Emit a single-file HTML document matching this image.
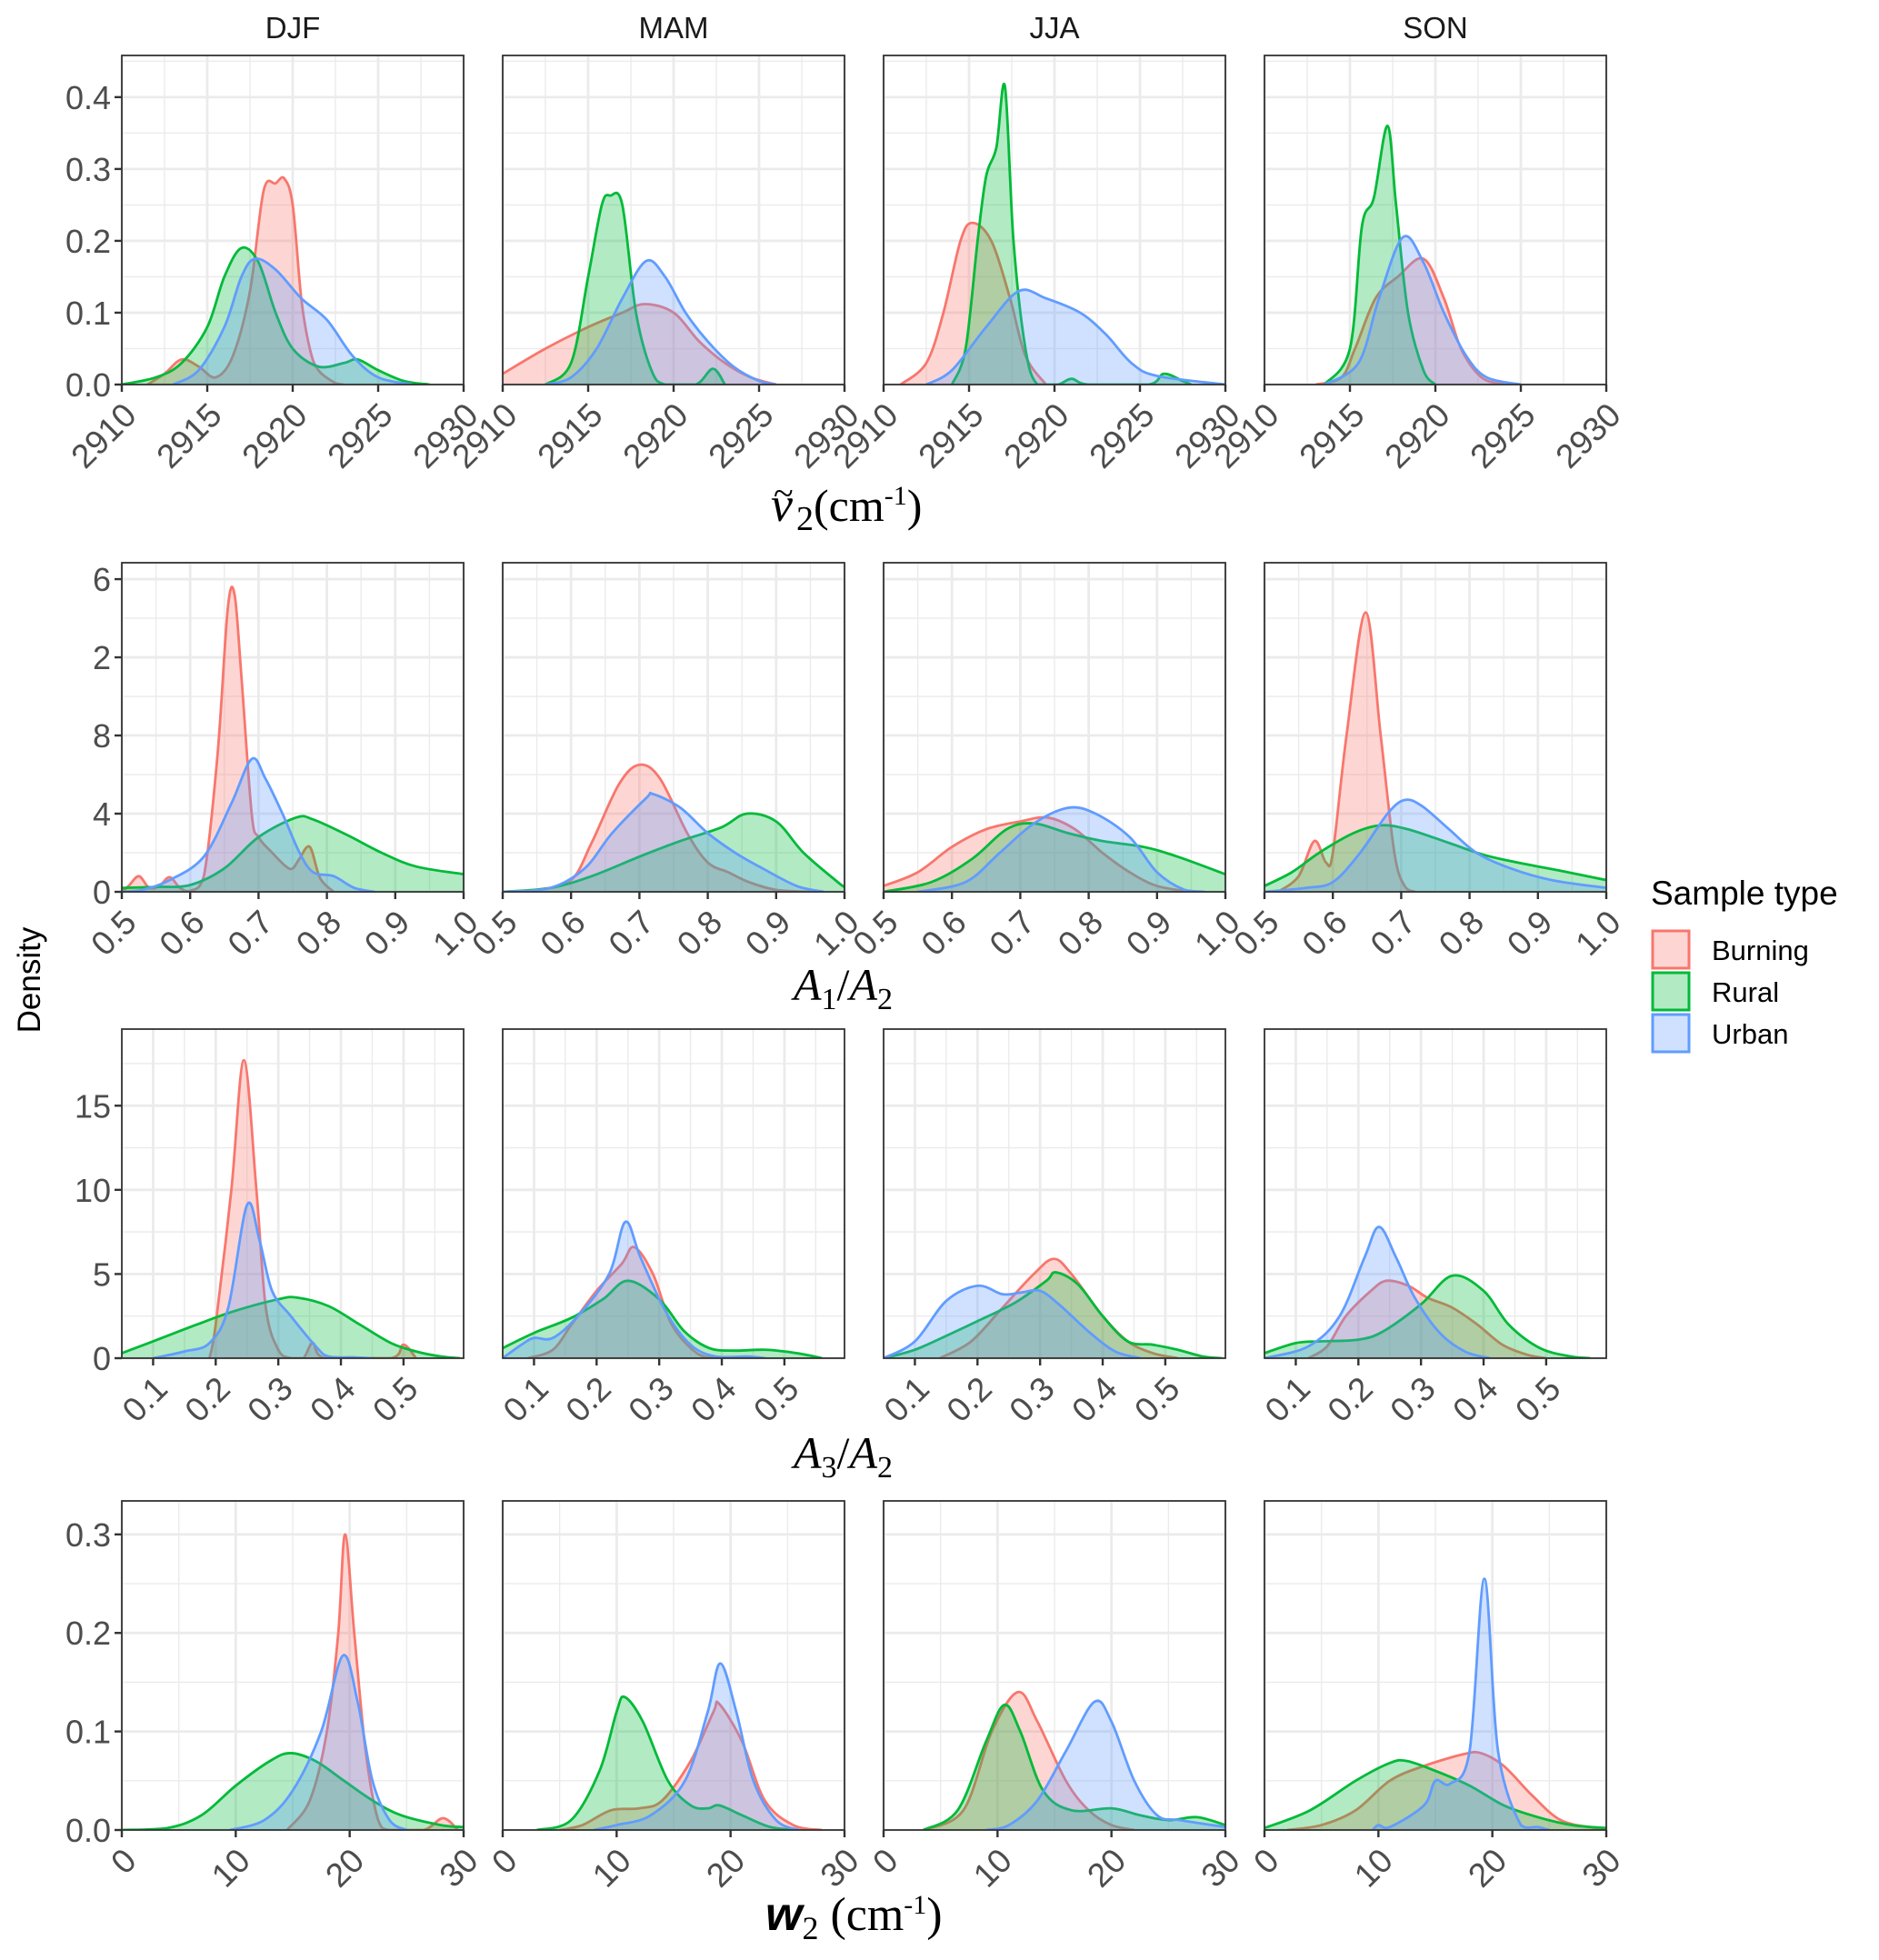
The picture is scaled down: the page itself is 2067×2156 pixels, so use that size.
<!DOCTYPE html>
<html><head><meta charset="utf-8"><title>Seasonal density plots</title>
<style>html,body{margin:0;padding:0;background:#fff}svg{display:block}</style></head>
<body>
<svg id="chart" width="2067" height="2156" viewBox="0 0 2067 2156" xmlns="http://www.w3.org/2000/svg" font-family="Liberation Sans, sans-serif">
<g id="layer-grid"></g>
<g id="layer-marks"></g>
<g id="layer-axes"></g>
<g font-size="33" fill="#1a1a1a" text-anchor="middle">
<text x="322" y="42">DJF</text>
<text x="741" y="42">MAM</text>
<text x="1160" y="42">JJA</text>
<text x="1579" y="42">SON</text>
</g>
<g font-family="Liberation Serif, serif" fill="#000">
<g>
<text x="848" y="573" font-size="54" font-style="italic">ν</text>
<text x="851" y="556" font-size="40">~</text>
<text x="876" y="573" font-size="50"><tspan font-size="38" dy="10">2</tspan><tspan dy="-10">(cm</tspan><tspan font-size="30" dy="-18">-1</tspan><tspan dy="18">)</tspan></text>
</g>
<text x="873" y="1100" font-size="50" font-style="italic">A<tspan font-size="34" dy="10" font-style="normal">1</tspan><tspan dy="-10" font-style="normal">/</tspan>A<tspan font-size="34" dy="10" font-style="normal">2</tspan></text>
<text x="873" y="1615" font-size="50" font-style="italic">A<tspan font-size="34" dy="10" font-style="normal">3</tspan><tspan dy="-10" font-style="normal">/</tspan>A<tspan font-size="34" dy="10" font-style="normal">2</tspan></text>
<text x="842" y="2123" font-size="52"><tspan font-family="Liberation Sans, sans-serif" font-style="italic" font-weight="bold">w</tspan><tspan font-size="36" dy="10">2</tspan><tspan dy="-10"> (cm</tspan><tspan font-size="30" dy="-18">-1</tspan><tspan dy="18">)</tspan></text>
</g>
<text x="44" y="1078" font-size="35" text-anchor="middle" transform="rotate(-90 44 1078)" fill="#000">Density</text>
<g>
<text x="1816" y="995" font-size="37" fill="#000">Sample type</text>
<rect x="1818" y="1024" width="40" height="41" fill="rgba(248,118,109,0.3)" stroke="#F8766D" stroke-width="3"/>
<rect x="1818" y="1070" width="40" height="41" fill="rgba(0,186,56,0.3)" stroke="#00BA38" stroke-width="3"/>
<rect x="1818" y="1116" width="40" height="41" fill="rgba(97,156,255,0.3)" stroke="#619CFF" stroke-width="3"/>
<text x="1883" y="1056" font-size="31" fill="#000">Burning</text>
<text x="1883" y="1102" font-size="31" fill="#000">Rural</text>
<text x="1883" y="1148" font-size="31" fill="#000">Urban</text>
</g>
</svg>
<script>
const seasons = ['DJF','MAM','JJA','SON'];
const sampleTypes = ['Burning','Rural','Urban'];
const rowVars = ['nu2','a1a2','a3a2','w2'];
const xDomains = [[2910,2930],[0.5,1.0],[0.05,0.596],[0,30]];
const yDomains = [[0,0.458],[0,16.84],[0,19.55],[0,0.334]];
const xTicks = [[2910,2915,2920,2925,2930],[0.5,0.6,0.7,0.8,0.9,1.0],[0.1,0.2,0.3,0.4,0.5],[0,10,20,30]];
const xTickLabels = [['2910','2915','2920','2925','2930'],['0.5','0.6','0.7','0.8','0.9','1.0'],['0.1','0.2','0.3','0.4','0.5'],['0','10','20','30']];
const xMinor = [[2912.5,2917.5,2922.5,2927.5],[0.55,0.65,0.75,0.85,0.95],[0.05,0.15,0.25,0.35,0.45,0.55],[5,15,25]];
const yTicks = [[0,0.1,0.2,0.3,0.4],[0,4,8,12,16],[0,5,10,15],[0,0.1,0.2,0.3]];
const yTickLabels = [['0.0','0.1','0.2','0.3','0.4'],['0','4','8','2','6'],['0','5','10','15'],['0.0','0.1','0.2','0.3']];
const yMinor = [[0.05,0.15,0.25,0.35,0.45],[2,6,10,14],[2.5,7.5,12.5,17.5],[0.05,0.15,0.25]];

const nu2_DJF_Burning_x=[2911.5,2912.5,2913.5,2914.5,2915.5,2916.5,2917.5,2918.3,2919,2919.5,2920,2920.5,2921,2921.5,2922.5,2923];
const nu2_DJF_Burning_y=[0,0.015,0.035,0.025,0.01,0.04,0.13,0.27,0.28,0.287,0.25,0.12,0.05,0.02,0.002,0];
const nu2_DJF_Rural_x=[2910,2912,2913.5,2915,2916,2917,2918,2919,2920,2921.5,2923,2923.8,2925,2926.5,2928];
const nu2_DJF_Rural_y=[0,0.01,0.03,0.08,0.15,0.19,0.17,0.1,0.05,0.025,0.03,0.035,0.02,0.005,0];
const nu2_DJF_Urban_x=[2913,2914.5,2916,2917,2917.8,2919,2920.5,2922,2923.5,2925,2927];
const nu2_DJF_Urban_y=[0,0.02,0.08,0.15,0.175,0.16,0.12,0.09,0.04,0.01,0];
const nu2_MAM_Burning_x=[2910,2912.5,2915,2917,2918.3,2920,2921.5,2923,2924.5,2926];
const nu2_MAM_Burning_y=[0.015,0.05,0.08,0.1,0.112,0.1,0.06,0.03,0.01,0];
const nu2_MAM_Rural_x=[2912.5,2914,2915,2915.8,2916.3,2917,2917.8,2918.7,2919.5,2921.3,2922.3,2923];
const nu2_MAM_Rural_y=[0,0.03,0.15,0.25,0.263,0.25,0.1,0.02,0,0,0.022,0];
const nu2_MAM_Urban_x=[2912.5,2914,2915.5,2917,2918.4,2919.5,2920.7,2922,2923.5,2925,2926];
const nu2_MAM_Urban_y=[0,0.01,0.05,0.12,0.172,0.15,0.1,0.06,0.025,0.005,0];
const nu2_JJA_Burning_x=[2911,2912.5,2913.5,2914.5,2915.2,2916.3,2917.4,2918.3,2919.5];
const nu2_JJA_Burning_y=[0,0.03,0.1,0.2,0.225,0.2,0.12,0.04,0];
const nu2_JJA_Rural_x=[2914,2914.8,2915.5,2916,2916.6,2917.1,2917.6,2918.3,2919,2920.2,2921,2922,2925.5,2926.4,2927.5,2928];
const nu2_JJA_Rural_y=[0,0.05,0.2,0.29,0.33,0.415,0.2,0.05,0,0,0.008,0,0,0.015,0.005,0];
const nu2_JJA_Urban_x=[2912.5,2914,2916,2917.9,2919.5,2921.5,2923,2924.5,2926,2930];
const nu2_JJA_Urban_y=[0,0.02,0.08,0.13,0.12,0.1,0.07,0.03,0.012,0];
const nu2_SON_Burning_x=[2913,2914.5,2915.3,2916.5,2917.8,2919.3,2920.5,2921.5,2922.7,2924];
const nu2_SON_Burning_y=[0,0.01,0.05,0.12,0.15,0.175,0.12,0.05,0.01,0];
const nu2_SON_Rural_x=[2913.5,2915,2915.7,2916.4,2917.2,2917.7,2918.4,2919.3,2920];
const nu2_SON_Rural_y=[0,0.05,0.22,0.26,0.36,0.25,0.1,0.02,0];
const nu2_SON_Urban_x=[2913.5,2915.5,2916.7,2918.1,2919.3,2920.5,2921.8,2923,2925];
const nu2_SON_Urban_y=[0,0.03,0.12,0.205,0.17,0.1,0.04,0.01,0];

const a1a2_DJF_Burning_x=[0.5,0.51,0.525,0.54,0.555,0.57,0.585,0.6,0.62,0.64,0.655,0.665,0.675,0.69,0.7,0.72,0.74,0.75,0.76,0.775,0.79,0.81];
const a1a2_DJF_Burning_y=[0,0.3,0.8,0.2,0.3,0.75,0.2,0.05,0.8,7,14.5,15.2,11,4,2.8,2.0,1.3,1.2,1.7,2.3,0.7,0];
const a1a2_DJF_Rural_x=[0.5,0.55,0.6,0.65,0.7,0.755,0.78,0.83,0.88,0.93,1.0];
const a1a2_DJF_Rural_y=[0.2,0.25,0.35,1.2,2.8,3.8,3.7,2.9,2.0,1.3,0.9];
const a1a2_DJF_Urban_x=[0.5,0.53,0.57,0.62,0.66,0.69,0.71,0.735,0.76,0.78,0.81,0.84,0.87];
const a1a2_DJF_Urban_y=[0,0.1,0.6,1.8,4.5,6.8,5.8,4,2,1,0.8,0.2,0];
const a1a2_MAM_Burning_x=[0.5,0.55,0.6,0.63,0.67,0.7,0.73,0.77,0.8,0.83,0.86,0.9,0.95];
const a1a2_MAM_Burning_y=[0,0.1,0.6,2.5,5.5,6.5,5.8,3,1.5,1.0,0.5,0.1,0];
const a1a2_MAM_Rural_x=[0.5,0.57,0.63,0.7,0.76,0.82,0.857,0.9,0.94,0.99,1.0];
const a1a2_MAM_Rural_y=[0,0.2,0.8,1.8,2.6,3.3,4.0,3.6,2,0.5,0.25];
const a1a2_MAM_Urban_x=[0.5,0.57,0.62,0.66,0.71,0.72,0.76,0.8,0.84,0.88,0.93,0.97];
const a1a2_MAM_Urban_y=[0,0.2,1.2,3,4.8,5.0,4.3,3.0,2.0,1.2,0.3,0];
const a1a2_JJA_Burning_x=[0.5,0.55,0.6,0.65,0.7,0.74,0.78,0.82,0.86,0.9,0.95];
const a1a2_JJA_Burning_y=[0.3,1,2.3,3.2,3.6,3.8,3.2,2,1,0.3,0];
const a1a2_JJA_Rural_x=[0.5,0.57,0.63,0.68,0.72,0.77,0.82,0.88,0.93,1.0];
const a1a2_JJA_Rural_y=[0,0.5,1.7,3.2,3.5,3,2.6,2.3,1.8,0.9];
const a1a2_JJA_Urban_x=[0.55,0.62,0.67,0.72,0.77,0.81,0.86,0.9,0.94,0.97];
const a1a2_JJA_Urban_y=[0,0.5,2,3.5,4.3,4,2.8,1,0.1,0];
const a1a2_SON_Burning_x=[0.52,0.55,0.573,0.59,0.6,0.62,0.648,0.67,0.69,0.705,0.72];
const a1a2_SON_Burning_y=[0,0.8,2.6,1.5,2,8,14.3,8,2,0.3,0];
const a1a2_SON_Rural_x=[0.5,0.54,0.58,0.63,0.67,0.71,0.77,0.82,0.87,0.93,1.0];
const a1a2_SON_Rural_y=[0.3,1,2,3,3.4,3.2,2.5,1.9,1.5,1.1,0.6];
const a1a2_SON_Urban_x=[0.5,0.56,0.6,0.64,0.68,0.705,0.73,0.77,0.81,0.86,0.92,1.0];
const a1a2_SON_Urban_y=[0,0.2,0.5,2,4,4.7,4.4,3.2,2,1.2,0.6,0.2];

const a3a2_DJF_Burning_x=[0.19,0.2,0.225,0.245,0.265,0.28,0.3,0.32,0.34,0.355,0.375,0.48,0.5,0.52];
const a3a2_DJF_Burning_y=[0,2,10,17.7,10,3,0.5,0,0,0.9,0,0,0.8,0];
const a3a2_DJF_Rural_x=[0.05,0.1,0.17,0.23,0.3,0.33,0.38,0.43,0.48,0.52,0.56,0.59];
const a3a2_DJF_Rural_y=[0.3,1,2,2.8,3.5,3.6,3.1,2,0.9,0.4,0.1,0];
const a3a2_DJF_Urban_x=[0.1,0.15,0.19,0.22,0.25,0.27,0.29,0.32,0.36,0.38,0.42,0.45];
const a3a2_DJF_Urban_y=[0,0.4,0.9,3,9.1,7,4,2.5,0.7,0.1,0.05,0];
const a3a2_MAM_Burning_x=[0.09,0.13,0.16,0.2,0.24,0.26,0.29,0.32,0.36,0.39];
const a3a2_MAM_Burning_y=[0,0.5,2,4,5.6,6.6,5,2,0.3,0];
const a3a2_MAM_Rural_x=[0.05,0.1,0.16,0.21,0.25,0.3,0.34,0.38,0.42,0.47,0.52,0.56];
const a3a2_MAM_Rural_y=[0.6,1.5,2.4,3.5,4.6,3.5,1.6,0.6,0.45,0.5,0.3,0];
const a3a2_MAM_Urban_x=[0.05,0.08,0.1,0.13,0.17,0.22,0.246,0.27,0.31,0.35,0.39,0.44,0.47];
const a3a2_MAM_Urban_y=[0,0.8,1.2,1.2,2.5,5,8.1,6,2.8,0.8,0.1,0.1,0];
const a3a2_JJA_Burning_x=[0.14,0.19,0.24,0.29,0.322,0.35,0.4,0.44,0.48,0.52];
const a3a2_JJA_Burning_y=[0,1,3,5,5.9,5,2.5,1,0.3,0];
const a3a2_JJA_Rural_x=[0.05,0.1,0.16,0.2,0.26,0.31,0.325,0.36,0.4,0.44,0.48,0.52,0.56,0.59];
const a3a2_JJA_Rural_y=[0,0.5,1.5,2.2,3.3,4.6,5.1,4.4,2.5,1.0,0.8,0.5,0.1,0];
const a3a2_JJA_Urban_x=[0.05,0.1,0.15,0.2,0.24,0.27,0.3,0.33,0.38,0.42,0.46];
const a3a2_JJA_Urban_y=[0,1,3.4,4.3,3.8,3.9,4.0,3.2,1.5,0.4,0];
const a3a2_SON_Burning_x=[0.12,0.15,0.18,0.22,0.245,0.28,0.31,0.35,0.39,0.43,0.47,0.5];
const a3a2_SON_Burning_y=[0,0.7,2.5,4,4.6,4.3,3.6,3,2,0.8,0.2,0];
const a3a2_SON_Rural_x=[0.05,0.1,0.14,0.2,0.24,0.3,0.35,0.4,0.44,0.49,0.54,0.57];
const a3a2_SON_Rural_y=[0.3,0.9,1,1.1,1.6,3.2,4.9,4,2,0.6,0.1,0];
const a3a2_SON_Urban_x=[0.05,0.12,0.17,0.21,0.233,0.26,0.29,0.33,0.37,0.41];
const a3a2_SON_Urban_y=[0,0.7,2.5,6,7.8,6,3.6,1.5,0.4,0];

const w2_DJF_Burning_x=[14.5,16.5,18,19,19.6,20.4,21.4,22.5,23.5,26.5,28.2,29.5];
const w2_DJF_Burning_y=[0,0.03,0.1,0.2,0.3,0.2,0.08,0.01,0,0,0.012,0];
const w2_DJF_Rural_x=[0,4,7,10,13,14.8,17,19.5,22,24.5,28,30];
const w2_DJF_Rural_y=[0,0.002,0.015,0.045,0.07,0.078,0.07,0.05,0.03,0.015,0.005,0.003];
const w2_DJF_Urban_x=[9.5,12.5,15,17.5,19.4,20.7,22,23.5,25];
const w2_DJF_Urban_y=[0,0.01,0.04,0.1,0.177,0.13,0.05,0.01,0];
const w2_MAM_Burning_x=[5,7,9.5,12,14,16.5,18.5,19,21,23,25.5,28];
const w2_MAM_Burning_y=[0,0.005,0.02,0.022,0.03,0.07,0.12,0.128,0.09,0.03,0.005,0];
const w2_MAM_Rural_x=[3,6,8.5,10,10.7,12.3,14.5,16.5,18,19,21,23.5,26];
const w2_MAM_Rural_y=[0,0.01,0.06,0.12,0.135,0.11,0.05,0.025,0.022,0.025,0.015,0.003,0];
const w2_MAM_Urban_x=[8,10,13,16,18,19.1,20.5,22,24,26];
const w2_MAM_Urban_y=[0,0.005,0.015,0.05,0.12,0.169,0.12,0.05,0.01,0];
const w2_JJA_Burning_x=[3.5,7,9.5,11.8,13.5,16,18,20,22];
const w2_JJA_Burning_y=[0,0.02,0.1,0.14,0.11,0.05,0.02,0.005,0];
const w2_JJA_Rural_x=[3.5,6.5,9,10.6,12,14,16.5,20,22.5,25,27.5,30];
const w2_JJA_Rural_y=[0,0.02,0.09,0.127,0.1,0.04,0.02,0.022,0.015,0.01,0.013,0.005];
const w2_JJA_Urban_x=[9,11,13.5,16,18.5,20,22,24,26,30];
const w2_JJA_Urban_y=[0,0.005,0.03,0.08,0.13,0.11,0.05,0.015,0.01,0.003];
const w2_SON_Burning_x=[2,5,8,11,14,17.5,19,21,23.5,26,29,30];
const w2_SON_Burning_y=[0,0.005,0.02,0.05,0.065,0.077,0.078,0.065,0.035,0.01,0.002,0];
const w2_SON_Rural_x=[0,4,8,11,12.5,15,18,21,24,27,30];
const w2_SON_Rural_y=[0.002,0.02,0.05,0.068,0.07,0.06,0.045,0.025,0.013,0.005,0.002];
const w2_SON_Urban_x=[9.5,10,11,14,15,16.3,18,19.3,20.5,22.5,24,25];
const w2_SON_Urban_y=[0,0.005,0.003,0.025,0.05,0.047,0.08,0.255,0.08,0.005,0.003,0];

const seriesData = {
 nu2:{DJF:{Burning:[nu2_DJF_Burning_x,nu2_DJF_Burning_y],Rural:[nu2_DJF_Rural_x,nu2_DJF_Rural_y],Urban:[nu2_DJF_Urban_x,nu2_DJF_Urban_y]},
      MAM:{Burning:[nu2_MAM_Burning_x,nu2_MAM_Burning_y],Rural:[nu2_MAM_Rural_x,nu2_MAM_Rural_y],Urban:[nu2_MAM_Urban_x,nu2_MAM_Urban_y]},
      JJA:{Burning:[nu2_JJA_Burning_x,nu2_JJA_Burning_y],Rural:[nu2_JJA_Rural_x,nu2_JJA_Rural_y],Urban:[nu2_JJA_Urban_x,nu2_JJA_Urban_y]},
      SON:{Burning:[nu2_SON_Burning_x,nu2_SON_Burning_y],Rural:[nu2_SON_Rural_x,nu2_SON_Rural_y],Urban:[nu2_SON_Urban_x,nu2_SON_Urban_y]}},
 a1a2:{DJF:{Burning:[a1a2_DJF_Burning_x,a1a2_DJF_Burning_y],Rural:[a1a2_DJF_Rural_x,a1a2_DJF_Rural_y],Urban:[a1a2_DJF_Urban_x,a1a2_DJF_Urban_y]},
      MAM:{Burning:[a1a2_MAM_Burning_x,a1a2_MAM_Burning_y],Rural:[a1a2_MAM_Rural_x,a1a2_MAM_Rural_y],Urban:[a1a2_MAM_Urban_x,a1a2_MAM_Urban_y]},
      JJA:{Burning:[a1a2_JJA_Burning_x,a1a2_JJA_Burning_y],Rural:[a1a2_JJA_Rural_x,a1a2_JJA_Rural_y],Urban:[a1a2_JJA_Urban_x,a1a2_JJA_Urban_y]},
      SON:{Burning:[a1a2_SON_Burning_x,a1a2_SON_Burning_y],Rural:[a1a2_SON_Rural_x,a1a2_SON_Rural_y],Urban:[a1a2_SON_Urban_x,a1a2_SON_Urban_y]}},
 a3a2:{DJF:{Burning:[a3a2_DJF_Burning_x,a3a2_DJF_Burning_y],Rural:[a3a2_DJF_Rural_x,a3a2_DJF_Rural_y],Urban:[a3a2_DJF_Urban_x,a3a2_DJF_Urban_y]},
      MAM:{Burning:[a3a2_MAM_Burning_x,a3a2_MAM_Burning_y],Rural:[a3a2_MAM_Rural_x,a3a2_MAM_Rural_y],Urban:[a3a2_MAM_Urban_x,a3a2_MAM_Urban_y]},
      JJA:{Burning:[a3a2_JJA_Burning_x,a3a2_JJA_Burning_y],Rural:[a3a2_JJA_Rural_x,a3a2_JJA_Rural_y],Urban:[a3a2_JJA_Urban_x,a3a2_JJA_Urban_y]},
      SON:{Burning:[a3a2_SON_Burning_x,a3a2_SON_Burning_y],Rural:[a3a2_SON_Rural_x,a3a2_SON_Rural_y],Urban:[a3a2_SON_Urban_x,a3a2_SON_Urban_y]}},
 w2:{DJF:{Burning:[w2_DJF_Burning_x,w2_DJF_Burning_y],Rural:[w2_DJF_Rural_x,w2_DJF_Rural_y],Urban:[w2_DJF_Urban_x,w2_DJF_Urban_y]},
      MAM:{Burning:[w2_MAM_Burning_x,w2_MAM_Burning_y],Rural:[w2_MAM_Rural_x,w2_MAM_Rural_y],Urban:[w2_MAM_Urban_x,w2_MAM_Urban_y]},
      JJA:{Burning:[w2_JJA_Burning_x,w2_JJA_Burning_y],Rural:[w2_JJA_Rural_x,w2_JJA_Rural_y],Urban:[w2_JJA_Urban_x,w2_JJA_Urban_y]},
      SON:{Burning:[w2_SON_Burning_x,w2_SON_Burning_y],Rural:[w2_SON_Rural_x,w2_SON_Rural_y],Urban:[w2_SON_Urban_x,w2_SON_Urban_y]}}
};

const NS='http://www.w3.org/2000/svg';
const colLeft=[134,553,972,1391], panelW=376;
const rowTop=[61,619,1132,1651], panelH=362;
const colors={Burning:'#F8766D',Rural:'#00BA38',Urban:'#619CFF'};
const fills={Burning:'rgba(248,118,109,0.3)',Rural:'rgba(0,186,56,0.3)',Urban:'rgba(97,156,255,0.3)'};
const gGrid=document.getElementById('layer-grid');
const gMarks=document.getElementById('layer-marks');
const gAxes=document.getElementById('layer-axes');

function mk(tag,attrs,parent){const e=document.createElementNS(NS,tag);for(const k in attrs)e.setAttribute(k,attrs[k]);parent.appendChild(e);return e;}
function xScale(r,c){const d=xDomains[r];return v=>colLeft[c]+(v-d[0])/(d[1]-d[0])*panelW;}
function yScale(r){const d=yDomains[r];return v=>rowTop[r]+panelH-(v-d[0])/(d[1]-d[0])*panelH;}

// Catmull-Rom (centripetal-ish via uniform) with control points clamped to baseline
function smoothPath(px,py,base){
  const n=px.length; if(n<2) return '';
  let d='M'+px[0].toFixed(2)+','+py[0].toFixed(2);
  for(let i=0;i<n-1;i++){
    const p0x=i>0?px[i-1]:px[i], p0y=i>0?py[i-1]:py[i];
    const p3x=i+2<n?px[i+2]:px[i+1], p3y=i+2<n?py[i+2]:py[i+1];
    const k=1/6;
    let c1x=px[i]+(px[i+1]-p0x)*k, c1y=py[i]+(py[i+1]-p0y)*k;
    let c2x=px[i+1]-(p3x-px[i])*k, c2y=py[i+1]-(p3y-py[i])*k;
    c1x=Math.min(Math.max(c1x,px[i]),px[i+1]); c2x=Math.min(Math.max(c2x,px[i]),px[i+1]);
    c1y=Math.min(c1y,base); c2y=Math.min(c2y,base);
    d+=' C'+c1x.toFixed(2)+','+c1y.toFixed(2)+' '+c2x.toFixed(2)+','+c2y.toFixed(2)+' '+px[i+1].toFixed(2)+','+py[i+1].toFixed(2);
  }
  return d;
}

const defs=mk('defs',{},document.getElementById('chart'));
for(let r=0;r<4;r++){
  const ys=yScale(r);
  for(let c=0;c<4;c++){
    const xs=xScale(r,c);
    const L=colLeft[c],T=rowTop[r],R=L+panelW,B=T+panelH;
    const cp=mk('clipPath',{id:'clip-'+r+'-'+c},defs);
    mk('rect',{x:L,y:T,width:panelW,height:panelH},cp);
    const pg=mk('g',{},gGrid);
    
    
    xMinor[r].forEach(v=>{const x=xs(v);if(x>=L&&x<=R)mk('line',{x1:x,x2:x,y1:T,y2:B,stroke:'#EBEBEB','stroke-width':1.4},pg);});
    yMinor[r].forEach(v=>{const y=ys(v);if(y>=T&&y<=B)mk('line',{x1:L,x2:R,y1:y,y2:y,stroke:'#EBEBEB','stroke-width':1.4},pg);});
    xTicks[r].forEach(v=>{const x=xs(v);mk('line',{x1:x,x2:x,y1:T,y2:B,stroke:'#EBEBEB','stroke-width':2.8},pg);});
    yTicks[r].forEach(v=>{const y=ys(v);mk('line',{x1:L,x2:R,y1:y,y2:y,stroke:'#EBEBEB','stroke-width':2.8},pg);});
    const mg=mk('g',{'clip-path':'url(#clip-'+r+'-'+c+')'},gMarks);
    
    
    const base=ys(0);
    sampleTypes.forEach(s=>{
      const sd=seriesData[rowVars[r]][seasons[c]][s];
      const px=sd[0].map(xs), py=sd[1].map(ys);
      const line=smoothPath(px,py,base);
      const area=line+' L'+px[px.length-1].toFixed(2)+','+base.toFixed(2)+' L'+px[0].toFixed(2)+','+base.toFixed(2)+' Z';
      const a=mk('path',{d:area,fill:fills[s],stroke:'none'},mg);
      
      
      const l=mk('path',{d:line,fill:'none',stroke:colors[s],'stroke-width':2.8,'stroke-linejoin':'round'},mg);
      
      
    });
    const ag=mk('g',{},gAxes);
    
    
    mk('rect',{x:L,y:T,width:panelW,height:panelH,fill:'none',stroke:'#333','stroke-width':1.8},ag);
    xTicks[r].forEach((v,i)=>{
      const x=xs(v);
      mk('line',{x1:x,x2:x,y1:B,y2:B+8,stroke:'#333','stroke-width':2.4},ag);
      const ax=x+18, ay=B+36;
      const t=mk('text',{x:ax,y:ay,'text-anchor':'end','font-size':37,fill:'#4D4D4D',transform:'rotate(-45 '+ax+' '+ay+')'},ag);
      
      
      t.textContent=xTickLabels[r][i];
    });
    if(c===0){
      yTicks[r].forEach((v,i)=>{
        const y=ys(v);
        mk('line',{x1:L-8,x2:L,y1:y,y2:y,stroke:'#333','stroke-width':2.4},ag);
        const t=mk('text',{x:L-12,y:y+13,'text-anchor':'end','font-size':36,fill:'#4D4D4D'},ag);
        
        
        t.textContent=yTickLabels[r][i];
      });
    }
  }
}
</script>
</body></html>
